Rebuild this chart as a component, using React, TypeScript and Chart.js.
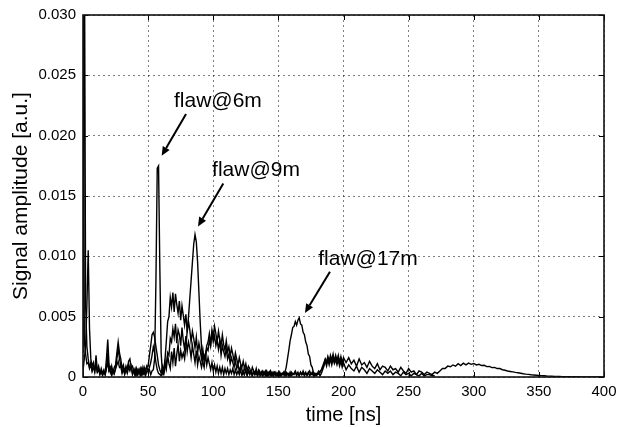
import { useEffect, useRef } from "react";
import { Chart, registerables } from "chart.js";

Chart.register(...registerables);

// ---- sampling grid (ns) ----
const FINE_START = 0; // fine part: 0..200 ns, 1 ns step
const FINE_STEP = 1;
const COARSE_START = 202; // coarse tails: from 202 ns, 2 ns step
const COARSE_STEP = 2;

// ---- signal amplitudes, in units of 1e-3 a.u. ----
// trace with the flaw at 6 m (fine part 0..200 ns)
const traceA_fine = [
  45, 3.0, 1.9, 1.1, 1.2, 0.7, 1.0, 0.5, 0.8, 0.5,
  1.8, 0.5, 0.7, 0.3, 0.5, 0.2, 0.4, 0.3, 1.5, 3.1,
  1.0, 0.4, 0.9, 0.3, 0.8, 1.0, 2.0, 2.9, 2.0, 1.5,
  0.7, 1.0, 0.4, 0.9, 0.6, 1.3, 1.5, 0.8, 0.9, 0.4,
  0.7, 0.2, 0.6, 0.3, 0.7, 0.2, 0.8, 0.3, 0.6, 0.9,
  0.4, 0.6, 0.2, 0.5, 0.6, 1.5, 8.0, 17.3, 17.5, 9.0,
  2.0, 0.3, 0.6, 1.5, 3.0, 4.6, 5.0, 6.6, 5.8, 7.0,
  5.4, 6.9, 6.0, 5.3, 6.3, 4.7, 5.9, 5.1, 4.3, 5.2,
  3.7, 4.6, 3.9, 2.9, 3.8, 3.2, 2.4, 3.3, 2.0, 2.8,
  2.2, 1.5, 2.3, 1.4, 1.9, 1.0, 1.6, 1.1, 0.6, 1.2,
  0.5, 1.0, 0.4, 0.9, 0.3, 0.8, 0.3, 0.8, 0.2, 0.7,
  0.3, 0.7, 0.2, 0.6, 0.3, 0.7, 0.2, 0.6, 0.2, 0.5,
  0.2, 0.6, 0.1, 0.5, 0.2, 0.6, 0.1, 0.5, 0.2, 0.5,
  0.1, 0.5, 0.2, 0.4, 0.1, 0.5, 0.2, 0.4, 0.1, 0.4,
  0.2, 0.5, 0.1, 0.4, 0.2, 0.4, 0.1, 0.4, 0.2, 0.3,
  0.1, 0.4, 0.1, 0.3, 0.2, 0.4, 0.1, 0.3, 0.1, 0.4,
  0.1, 0.3, 0.2, 0.4, 0.1, 0.3, 0.1, 0.4, 0.2, 0.3,
  0.1, 0.3, 0.2, 0.4, 0.1, 0.3, 0.2, 0.4, 0.1, 0.3,
  0.2, 0.3, 0.1, 0.3, 0.6, 0.9, 1.4, 1.2, 1.7, 1.3,
  1.8, 1.4, 1.9, 1.3, 1.8, 1.4, 1.8, 1.2, 1.7, 1.2, 1.6,
];
// trace A coarse tail (202..400 ns)
const traceA_tail = [
  1.2, 1.6, 1.1, 1.4, 0.9, 1.5, 1.0, 1.2, 0.8, 1.3,
  0.9, 0.7, 1.1, 0.6, 0.9, 0.8, 0.5, 0.9, 0.6, 0.7,
  0.4, 0.8, 0.5, 0.3, 0.7, 0.4, 0.5, 0.2, 0.5, 0.4,
  0.2, 0.4, 0.3, 0.2, 0.4, 0.3, 0.5, 0.7, 0.7, 0.9,
  0.85, 1.0, 0.9, 1.1, 0.95, 1.15, 1.0, 1.15, 1.05, 1.12,
  1.0, 1.05, 0.95, 0.97, 0.86, 0.88, 0.78, 0.8, 0.7, 0.7,
  0.6, 0.56, 0.5, 0.46, 0.42, 0.38, 0.35, 0.31, 0.27, 0.24,
  0.22, 0.19, 0.17, 0.15, 0.13, 0.11, 0.1, 0.08, 0.07, 0.06,
  0.05, 0.04, 0.04, 0.03, 0.03, 0.02, 0.02, 0.02, 0.02, 0.02,
  0.01, 0.01, 0.01, 0.01, 0.01, 0.01, 0.01, 0.01, 0.01, 0.01,
];
// trace with the flaw at 9 m (0..200 ns)
const traceB_fine = [
  0.5, 1.5, 2.5, 6.0, 10.5, 4.0, 1.5, 0.9, 1.2, 0.6,
  1.0, 0.5, 0.9, 0.3, 0.7, 0.3, 0.6, 0.2, 0.7, 1.2,
  0.5, 0.8, 0.2, 0.6, 0.3, 0.7, 1.0, 1.3, 0.8, 0.9,
  0.3, 0.7, 0.2, 0.6, 0.3, 0.8, 0.5, 0.9, 0.2, 0.6,
  0.2, 0.7, 0.2, 0.6, 0.3, 0.7, 0.3, 0.8, 0.4, 0.9,
  0.9, 1.8, 2.6, 3.5, 3.7, 3.3, 2.5, 1.8, 1.0, 0.6,
  0.3, 0.9, 0.5, 1.3, 0.7, 1.8, 1.1, 0.7, 2.1, 1.2,
  2.4, 0.9, 1.9, 2.7, 1.3, 2.2, 1.6, 2.0, 1.5, 2.5,
  3.8, 5.0, 6.5, 8.0, 9.5, 11.0, 11.8, 11.2, 9.5, 7.0,
  4.5, 2.5, 1.2, 0.8, 1.8, 2.6, 2.9, 3.6, 2.7, 3.9,
  3.3, 4.2, 3.6, 2.9, 3.8, 3.1, 2.6, 3.5, 2.7, 2.2,
  3.0, 2.1, 2.5, 1.7, 2.4, 1.9, 1.3, 2.0, 1.5, 1.0,
  1.6, 1.1, 0.8, 1.3, 0.7, 1.1, 0.5, 0.9, 0.7, 0.3,
  0.8, 0.5, 0.3, 0.7, 0.2, 0.6, 0.4, 0.2, 0.5, 0.3,
  0.5, 0.1, 0.4, 0.2, 0.5, 0.1, 0.4, 0.2, 0.4, 0.1,
  0.4, 0.1, 0.3, 0.2, 0.4, 0.1, 0.4, 0.2, 0.3, 0.1,
  0.4, 0.2, 0.3, 0.5, 0.2, 0.4, 0.1, 0.4, 0.2, 0.5,
  0.2, 0.4, 0.1, 0.3, 0.5, 0.2, 0.4, 0.1, 0.3, 0.2,
  0.3, 0.5, 0.4, 0.6, 0.8, 1.0, 1.3, 0.9, 1.4, 1.0,
  1.5, 1.0, 1.5, 1.1, 1.4, 1.0, 1.4, 0.9, 1.3, 0.8, 1.2,
];
// trace B coarse tail (202..270 ns)
const traceB_tail = [
  0.6, 1.0, 0.7, 0.5, 0.9, 0.4, 0.8, 0.6, 0.3, 0.7,
  0.5, 0.3, 0.6, 0.4, 0.2, 0.5, 0.3, 0.5, 0.2, 0.4,
  0.3, 0.1, 0.4, 0.2, 0.3, 0.1, 0.3, 0.2, 0.1, 0.3,
  0.1, 0.2, 0.2, 0.1, 0.1,
];
// trace with the flaw at 17 m (0..200 ns)
const traceC_fine = [
  2.0, 40, 6.0, 2.5, 1.5, 0.8, 1.2, 0.5, 0.9, 0.4,
  1.2, 0.4, 0.6, 0.2, 0.5, 0.1, 0.4, 0.2, 0.8, 2.0,
  0.5, 0.6, 0.2, 0.6, 0.3, 0.7, 1.5, 2.4, 1.5, 1.0,
  0.4, 0.6, 0.3, 0.7, 0.8, 1.1, 0.7, 0.8, 0.3, 0.5,
  0.1, 0.5, 0.2, 0.6, 0.1, 0.5, 0.2, 0.4, 0.1, 0.5,
  0.5, 0.8, 1.2, 1.8, 2.5, 2.0, 1.2, 0.6, 0.3, 0.2,
  0.1, 0.4, 0.2, 0.7, 1.0, 2.0, 1.8, 3.2, 2.9, 4.0,
  3.3, 4.4, 2.8, 3.9, 3.5, 2.6, 4.1, 3.0, 2.3, 3.4,
  2.1, 2.9, 2.4, 1.6, 2.6, 1.9, 1.2, 2.2, 1.0, 1.7,
  1.3, 0.8, 1.4, 1.8, 1.5, 2.4, 2.2, 3.0, 2.6, 3.6,
  2.9, 3.4, 2.6, 3.1, 2.3, 3.0, 1.8, 2.6, 2.1, 1.7,
  2.3, 1.5, 1.9, 1.1, 1.6, 1.2, 0.8, 1.4, 0.7, 1.0,
  0.5, 0.9, 0.6, 0.3, 0.8, 0.5, 0.2, 0.6, 0.4, 0.5,
  0.1, 0.5, 0.2, 0.4, 0.1, 0.4, 0.1, 0.4, 0.1, 0.3,
  0.1, 0.3, 0.1, 0.4, 0.1, 0.3, 0.1, 0.3, 0.1, 0.3,
  0.1, 0.2, 0.1, 0.3, 0.2, 0.4, 0.8, 1.5, 2.2, 3.0,
  3.5, 4.1, 4.2, 4.6, 4.3, 4.7, 4.9, 4.4, 4.3, 3.7,
  3.5, 2.9, 2.6, 1.9, 1.7, 1.0, 0.8, 0.3, 0.2, 0.1,
  0.2, 0.3, 0.4, 0.6, 0.9, 1.2, 1.5, 1.2, 1.6, 1.3,
  1.6, 1.3, 1.7, 1.3, 1.6, 1.3, 1.6, 1.2, 1.5, 1.1, 1.4,
];
const AMP_UNIT = 1e-3;

// ---- axes ----
const X_MIN = 0;
const X_MAX = 400;
const X_STEP = 50;
const Y_MIN = 0;
const Y_MAX = 0.03;
const Y_STEP = 0.005;
const X_TITLE = "time [ns]";
const Y_TITLE = "Signal amplitude [a.u.]";

// ---- annotations (data coordinates) ----
const ANN_LABELS = ["flaw@6m", "flaw@9m", "flaw@17m"];
const ANN_TEXT_X = [103.6, 132.8, 218.8];
const ANN_TEXT_Y = [0.0224, 0.01667, 0.00931];
const ANN_TAIL_X = [79.1, 107.7, 189.6];
const ANN_TAIL_Y = [0.0218, 0.01603, 0.00873];
const ANN_HEAD_X = [60.4, 88.3, 170.4];
const ANN_HEAD_Y = [0.01833, 0.01248, 0.00531];

const FONT = "'Liberation Sans', Arial, Helvetica, sans-serif";

function toPoints(values: number[], start: number, step: number) {
  return values.map((v, i) => ({ x: start + i * step, y: v * AMP_UNIT }));
}

const overlayPlugin = {
  id: "overlay",
  afterDatasetsDraw(chart: any) {
    const { ctx, chartArea: a, scales } = chart;
    const xs = scales.x;
    const ys = scales.y;
    ctx.save();
    // inner tick marks on all four sides
    ctx.strokeStyle = "#000";
    ctx.lineWidth = 1;
    ctx.beginPath();
    for (let v = X_MIN; v <= X_MAX + 1e-9; v += X_STEP) {
      const px = Math.round(xs.getPixelForValue(v)) + 0.5;
      ctx.moveTo(px, a.bottom);
      ctx.lineTo(px, a.bottom - 5);
      ctx.moveTo(px, a.top);
      ctx.lineTo(px, a.top + 5);
    }
    for (let k = 0; k <= Math.round((Y_MAX - Y_MIN) / Y_STEP); k++) {
      const py = Math.round(ys.getPixelForValue(Y_MIN + k * Y_STEP)) + 0.5;
      ctx.moveTo(a.left, py);
      ctx.lineTo(a.left + 5, py);
      ctx.moveTo(a.right, py);
      ctx.lineTo(a.right - 5, py);
    }
    ctx.stroke();
    // frame
    ctx.lineWidth = 1.6;
    ctx.strokeStyle = "#111";
    ctx.strokeRect(a.left, a.top, a.right - a.left, a.bottom - a.top);

    // annotations
    ctx.fillStyle = "#000";
    ctx.font = `21px ${FONT}`;
    ctx.textAlign = "center";
    ctx.textBaseline = "alphabetic";
    ANN_LABELS.forEach((label, i) => {
      ctx.fillText(label, xs.getPixelForValue(ANN_TEXT_X[i]), ys.getPixelForValue(ANN_TEXT_Y[i]));
      const x1 = xs.getPixelForValue(ANN_TAIL_X[i]);
      const y1 = ys.getPixelForValue(ANN_TAIL_Y[i]);
      const x2 = xs.getPixelForValue(ANN_HEAD_X[i]);
      const y2 = ys.getPixelForValue(ANN_HEAD_Y[i]);
      const ang = Math.atan2(y2 - y1, x2 - x1);
      const headLen = 9;
      const headW = 4;
      const bx = x2 - headLen * Math.cos(ang);
      const by = y2 - headLen * Math.sin(ang);
      ctx.strokeStyle = "#000";
      ctx.lineWidth = 2;
      ctx.beginPath();
      ctx.moveTo(x1, y1);
      ctx.lineTo(bx, by);
      ctx.stroke();
      ctx.beginPath();
      ctx.moveTo(x2, y2);
      ctx.lineTo(bx + headW * Math.sin(ang), by - headW * Math.cos(ang));
      ctx.lineTo(bx - headW * Math.sin(ang), by + headW * Math.cos(ang));
      ctx.closePath();
      ctx.fill();
    });
    ctx.restore();
  },
};

export default function App() {
  const ref = useRef<HTMLCanvasElement | null>(null);

  useEffect(() => {
    if (!ref.current) return;
    const lineStyle = {
      borderColor: "#000",
      borderWidth: 1.4,
      pointRadius: 0,
      tension: 0,
      fill: false,
    };
    const chart = new Chart(ref.current, {
      type: "line",
      data: {
        datasets: [
          {
            label: "A",
            data: [
              ...toPoints(traceA_fine, FINE_START, FINE_STEP),
              ...toPoints(traceA_tail, COARSE_START, COARSE_STEP),
            ],
            ...lineStyle,
          },
          {
            label: "B",
            data: [
              ...toPoints(traceB_fine, FINE_START, FINE_STEP),
              ...toPoints(traceB_tail, COARSE_START, COARSE_STEP),
            ],
            ...lineStyle,
          },
          { label: "C", data: toPoints(traceC_fine, FINE_START, FINE_STEP), ...lineStyle },
        ],
      },
      options: {
        animation: false,
        responsive: false,
        devicePixelRatio: 1,
        parsing: false,
        normalized: true,
        layout: { padding: { top: 15, right: 15, left: 0, bottom: 0 } },
        plugins: { legend: { display: false }, tooltip: { enabled: false } },
        scales: {
          x: {
            type: "linear",
            min: X_MIN,
            max: X_MAX,
            afterFit: (s: any) => {
              s.height = 50;
              s.paddingLeft = 0;
              s.paddingRight = 0;
            },
            ticks: {
              stepSize: X_STEP,
              color: "#000",
              padding: 6,
              maxRotation: 0,
              font: { family: FONT, size: 15 },
            },
            grid: { color: "rgba(0,0,0,0.5)", lineWidth: 1, drawTicks: false },
            border: { display: false, dash: [2, 3] },
            title: {
              display: true,
              text: X_TITLE,
              color: "#000",
              font: { family: FONT, size: 20 },
              padding: { top: 0, bottom: 0 },
            },
          },
          y: {
            type: "linear",
            min: Y_MIN,
            max: Y_MAX,
            afterFit: (s: any) => {
              s.width = 83;
              s.paddingTop = 0;
              s.paddingBottom = 0;
            },
            ticks: {
              stepSize: Y_STEP,
              color: "#000",
              padding: 7,
              font: { family: FONT, size: 15 },
              callback: (v: any) => (Number(v) === 0 ? "0" : Number(v).toFixed(3)),
            },
            grid: { color: "rgba(0,0,0,0.5)", lineWidth: 1, drawTicks: false },
            border: { display: false, dash: [2, 3] },
            title: {
              display: true,
              text: Y_TITLE,
              color: "#000",
              font: { family: FONT, size: 21 },
              padding: { top: 9, bottom: 0 },
            },
          },
        },
      },
      plugins: [overlayPlugin],
    } as any);
    return () => chart.destroy();
  }, []);

  return (
    <div style={{ position: "fixed", left: 0, top: 0, width: 619, height: 427, background: "#fff" }}>
      <canvas ref={ref} width={619} height={427} style={{ display: "block" }} />
    </div>
  );
}
